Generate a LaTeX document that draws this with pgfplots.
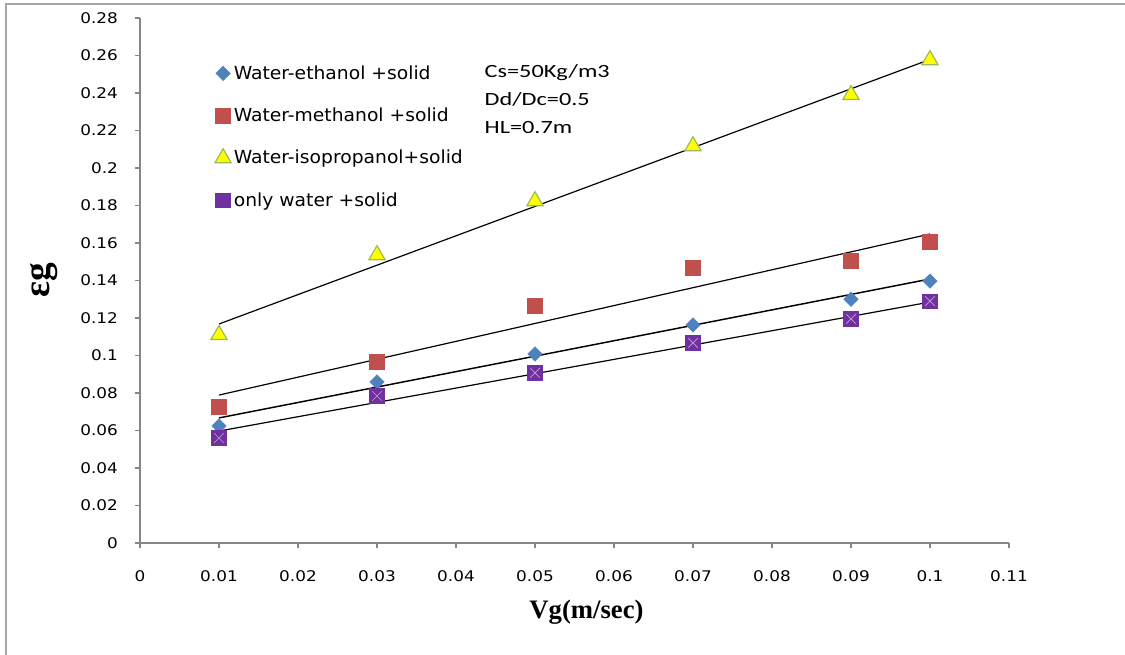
\documentclass[border=0pt]{standalone}
\usepackage{pgfplots}
\pgfplotsset{compat=1.18}
\usepackage{fontspec}
\setmainfont{DejaVu Sans}[FakeStretch=1.04]
\newfontfamily\tickfont{DejaVu Sans}[FakeStretch=1.15]
\newfontfamily\notefont{Carlito}[FakeStretch=1.3]
\newfontfamily\labfont{Liberation Serif}

\definecolor{exblue}{HTML}{4F81BD}
\definecolor{exred}{HTML}{C0504D}
\definecolor{exyellow}{HTML}{FFFF00}
\definecolor{exgreen}{HTML}{9BBB59}
\definecolor{expurple}{HTML}{7030A0}
\definecolor{axgray}{HTML}{868686}

\begin{document}
\begin{tikzpicture}
\begin{axis}[
  scale only axis,
  width=651.75pt, height=393.75pt,
  xmin=0, xmax=0.11, ymin=0, ymax=0.28,
  xtick={0,0.01,...,0.11}, ytick={0,0.02,...,0.28},
  axis lines=left,
  axis line style={-, axgray, line width=1.4pt},
  tick style={axgray, line width=1.4pt},
  major tick length=4pt,
  tick align=outside,
  /pgf/number format/fixed,
  /pgf/number format/precision=2,
  /pgf/number format/assume math mode=true,
  ticklabel style={font=\tickfont\fontsize{11}{12}\selectfont, text=black},
  yticklabel style={xshift=-9pt},
  xticklabel style={yshift=-13pt},
  xlabel={\labfont\bfseries\fontsize{20}{24}\selectfont Vg(m/sec)},
  ylabel={\labfont\bfseries\fontsize{28}{30}\selectfont εg},
  xlabel style={yshift=-7pt, xshift=9pt},
  ylabel style={yshift=10pt},
  clip=false,
  legend style={at={(rel axis cs:0.086,0.915)}, anchor=north west, draw=none, fill=none,
    font=\fontsize{13.5}{15}\selectfont, row sep=16pt, inner sep=0pt},
  legend cell align=left,
]
% data points
\addplot[only marks, mark=square*, mark size=3.8pt, mark options={exblue, fill=exblue, rotate=45}]
  coordinates {(0.01,0.0624) (0.03,0.0859) (0.05,0.1008) (0.07,0.1163) (0.09,0.1300) (0.1,0.1397)};
\addlegendentry{Water-ethanol +solid}
\addplot[only marks, mark=square*, mark size=5.5pt, mark options={exred, fill=exred}]
  coordinates {(0.01,0.0725) (0.03,0.0965) (0.05,0.1264) (0.07,0.1467) (0.09,0.1504) (0.1,0.1605)};
\addlegendentry{Water-methanol +solid}
\addplot[only marks, mark=triangle*, mark size=7pt, mark options={exgreen, fill=exyellow, line width=0.9pt}]
  coordinates {(0.01,0.1110) (0.03,0.1536) (0.05,0.1824) (0.07,0.2117) (0.09,0.2390) (0.1,0.2576)};
\addlegendentry{Water-isopropanol+solid}
\addplot[only marks, mark=square*, mark size=5.5pt, mark options={expurple, fill=expurple}]
  coordinates {(0.01,0.0560) (0.03,0.0784) (0.05,0.0907) (0.07,0.1067) (0.09,0.1195) (0.1,0.1290)};
\addlegendentry{only water +solid}
\addplot[only marks, mark=x, mark size=5pt, mark options={expurple!45!white, line width=0.5pt}, forget plot]
  coordinates {(0.01,0.0560) (0.03,0.0784) (0.05,0.0907) (0.07,0.1067) (0.09,0.1195) (0.1,0.1290)};
% linear trend lines
\addplot[black, line width=0.9pt, forget plot] coordinates {(0.01,0.1168) (0.1,0.2579)};
\addplot[black, line width=0.9pt, forget plot] coordinates {(0.01,0.0789) (0.1,0.1648)};
\addplot[black, line width=1.1pt, forget plot] coordinates {(0.01,0.0667) (0.1,0.1408)};
\addplot[black, line width=0.9pt, forget plot] coordinates {(0.01,0.0597) (0.1,0.1285)};
\node[anchor=north west, align=left, inner sep=0pt, font=\notefont\fontsize{14}{21}\selectfont]
  at (axis cs:0.0436,0.2555) {Cs=50Kg/m3\\Dd/Dc=0.5\\HL=0.7m};
\end{axis}
\draw[gray!70, line width=1.5pt]
  ([shift={(-100.5pt,-84pt)}]current axis.south west) --
  ([shift={(-100.5pt,403.9pt)}]current axis.south west) --
  ([shift={(738.75pt,403.9pt)}]current axis.south west);
\pgfresetboundingbox
\path[use as bounding box] ([shift={(-105pt,-84pt)}]current axis.south west)
  rectangle ([shift={(738.75pt,407.25pt)}]current axis.south west);
\end{tikzpicture}
\end{document}
